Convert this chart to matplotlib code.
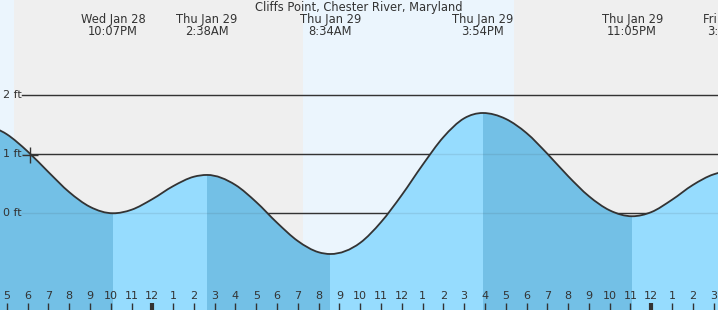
import matplotlib.pyplot as plt
import numpy as np
from matplotlib.path import Path
from matplotlib.patches import PathPatch
from matplotlib import transforms

station = "Cliffs Point, Chester River, Maryland"

# time in hours from midnight Thu Jan 29, tide height in ft
tide_t = [-8, -7, -6, -5, -4, -3, -1.883, -1, 0, 1, 2, 2.633, 4, 5, 6, 7, 8,
          8.567, 10, 11, 12, 13, 14, 15, 15.9, 17, 18, 19, 20, 21, 22,
          23.083, 24, 25, 26, 27, 27.75, 28.5]
tide_ft = [1.51, 1.34, 1.05, 0.70, 0.36, 0.11, 0.00, 0.06, 0.24, 0.46, 0.62,
           0.65, 0.48, 0.19, -0.16, -0.47, -0.66, -0.69, -0.50, -0.15,
           0.31, 0.82, 1.29, 1.61, 1.70, 1.60, 1.36, 1.01, 0.63, 0.29, 0.05,
           -0.05, 0.02, 0.23, 0.48, 0.66, 0.71, 0.66]

# high / low tide labels
ev_t = [-1.883, 2.633, 8.567, 15.9, 23.083, 27.75]
ev_kind = ['L', 'H', 'L', 'H', 'L', 'H']
ev_day = ["Wed Jan 28", "Thu Jan 29", "Thu Jan 29", "Thu Jan 29", "Thu Jan 29", "Fri Jan 30"]
ev_time = ["10:07PM", "2:38AM", "8:34AM", "3:54PM", "11:05PM", "3:45AM"]

# daylight periods (sunset Jan 28 5:21PM, sunrise 7:15AM, sunset 5:24PM)
day_spans = [(-8, -6.652), (7.25, 17.40)]

now_t, now_ft = -5.883, 0.99
grid_ft = [0, 1, 2]
hours = list(range(-7, 28))

dark = '#333333'
fig = plt.figure(figsize=(7.18, 3.10), dpi=100)
fig.patch.set_facecolor('#efefef')
ax = fig.add_axes([0, 0, 1, 1])
ax.axis('off')
ax.set_xlim(-7.326, 27.21)
ax.set_ylim(-1.639, 3.615)

for a, b in day_spans:
    ax.axvspan(a, b, color='#ebf5fd', lw=0, zorder=0)

pix_y = transforms.blended_transform_factory(transforms.IdentityTransform(), ax.transData)
for g in grid_ft:
    ax.axhline(g, xmin=22 / 718, xmax=1, color=dark, lw=1, zorder=1)
    ax.axhline(g, xmin=22 / 718, xmax=1, color=dark, lw=1, alpha=0.1, zorder=3)
    ax.text(3, g, "%d ft" % g, transform=pix_y, ha='left', va='center',
            fontsize=8, color=dark, zorder=6)

# smooth curve through the readings (cubic hermite drawn as bezier segments)
x = np.array(tide_t, dtype=float)
y = np.array(tide_ft, dtype=float)
dx = np.diff(x)
d = np.diff(y) / dx
m = np.zeros_like(y)
m[0], m[-1] = d[0], d[-1]
for i in range(1, len(y) - 1):
    if d[i - 1] * d[i] > 0:
        m[i] = (d[i - 1] * dx[i] + d[i] * dx[i - 1]) / (dx[i - 1] + dx[i])
verts = [(x[0], y[0])]
codes = [Path.MOVETO]
for i in range(len(x) - 1):
    h = dx[i] / 3
    verts += [(x[i] + h, y[i] + m[i] * h), (x[i + 1] - h, y[i + 1] - m[i + 1] * h),
              (x[i + 1], y[i + 1])]
    codes += [Path.CURVE4] * 3

water = PathPatch(Path(verts + [(x[-1], -5), (x[0], -5), (x[0], y[0])],
                       codes + [Path.LINETO, Path.LINETO, Path.CLOSEPOLY]),
                  fc='#96dcfe', ec='none', zorder=2)
ax.add_patch(water)

# falling tide shaded darker
bounds = [x[0]] + ev_t + [x[-1]]
for i, k in enumerate(ev_kind):
    if k == 'L':
        sp = ax.axvspan(bounds[i], ev_t[i], color='#73c0e6', lw=0, zorder=2.5)
        sp.set_clip_path(water)
if ev_kind[-1] == 'H':
    sp = ax.axvspan(ev_t[-1], x[-1], color='#73c0e6', lw=0, zorder=2.5)
    sp.set_clip_path(water)

ax.add_patch(PathPatch(Path(verts, codes), fill=False, ec=dark, lw=1.3, zorder=4))
ax.plot([now_t], [now_ft], marker='+', ms=11, mew=1, color=dark, zorder=5)

# hour ticks along the bottom
xt = ax.get_xaxis_transform()
for h in hours:
    lab = h % 12 or 12
    ax.text(h, 1 - 296 / 310, str(lab), transform=xt, ha='center', va='center',
            fontsize=8, color=dark, zorder=5)
    ax.vlines(h, 0, 7.5 / 310, transform=xt, color=dark,
              lw=3 if h % 24 == 0 else 1, zorder=5)

# header
fig.text(0.5, 1 - 7.5 / 310, station, ha='center', va='center', fontsize=8.3, color=dark)
for t, dd, s in zip(ev_t, ev_day, ev_time):
    ax.text(t, 1 - 19 / 310, dd, transform=xt, ha='center', va='center',
            fontsize=8.3, color=dark, zorder=5)
    ax.text(t, 1 - 31.5 / 310, s, transform=xt, ha='center', va='center',
            fontsize=8.3, color=dark, zorder=5)

fig.savefig('out.png', dpi=100)
